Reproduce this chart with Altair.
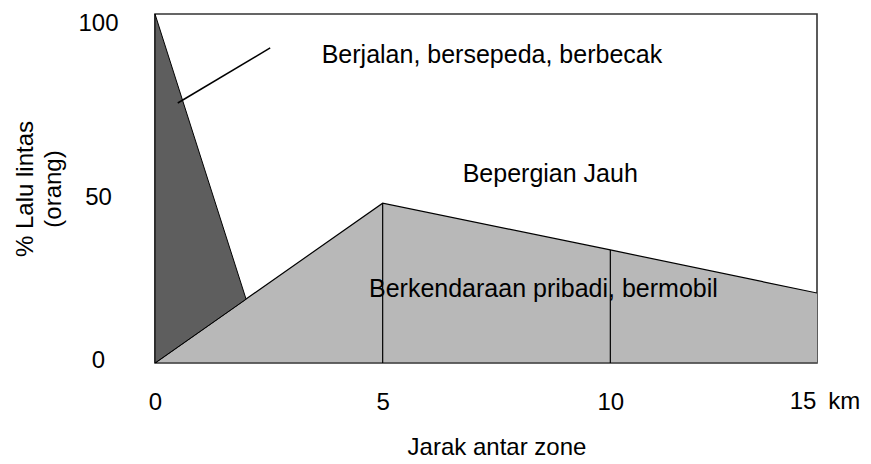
import altair as alt
import pandas as pd

# Car / private vehicle share (hatched area)
car_x = [0, 5, 10, 15]
car_y = [0, 45.8, 32.4, 18.8]

# Walking / cycling / becak share (dark triangle)
walk_x = [0, 2]
walk_top = [100, 18.3]
walk_bottom = [0, 18.3]

# vertical dividers
div_x = [5, 10]
div_top = [45.8, 32.4]

# pointer line for the walking label
ptr_x = [0.5, 2.53]
ptr_y = [74.5, 90.3]

# labels inside the plot
lab_text = ["Berjalan, bersepeda, berbecak", "Bepergian Jauh", "Berkendaraan pribadi, bermobil"]
lab_x = [7.40, 8.68, 8.53]
lab_y = [86, 51.9, 18.9]

FONT = "Liberation Sans"
W, H = 662, 349

xs = alt.Scale(domain=[0, 15], range=[0, 683])
ys = alt.Scale(domain=[0, 100])

car = pd.DataFrame({"x": car_x, "y": car_y})
walk = pd.DataFrame({"x": walk_x, "top": walk_top, "bottom": walk_bottom})
div = pd.DataFrame({"x": div_x, "top": div_top, "zero": [0, 0]})
ptr = pd.DataFrame({"x": ptr_x, "y": ptr_y})
labs = pd.DataFrame({"t": lab_text, "x": lab_x, "y": lab_y})
km = pd.DataFrame({"x": [15], "t": ["15\u2002km"]})

xaxis = alt.Axis(values=[0, 5, 10], grid=False, domain=False, ticks=False, tickSize=0,
                 labelFlush=False,
                 labelFontSize=24, labelFont=FONT, labelColor="black", labelPadding=27,
                 title="Jarak antar zone", titleFontSize=24, titleFont=FONT,
                 titleFontWeight="normal", titleColor="black", titlePadding=21)
yaxis = alt.Axis(values=[0, 50, 100], grid=False, domain=False, ticks=False, tickSize=0,
                 labelFontSize=24, labelFont=FONT, labelColor="black", labelPadding=57,
                 labelAlign="center",
                 labelOffset={"condition": {"test": "datum.value == 0", "value": -3},
                              "value": 9},
                 title=["% Lalu lintas", "(orang)"], titleFontSize=24, titleFont=FONT,
                 titleFontWeight="normal", titleColor="black", titlePadding=12,
                 titleLineHeight=28)

car_layer = alt.Chart(car).mark_area(fill="#b8b8b8", stroke="black", strokeWidth=1.2, clip=True).encode(
    x=alt.X("x:Q", scale=xs, axis=xaxis),
    y=alt.Y("y:Q", scale=ys, axis=yaxis),
)

walk_layer = alt.Chart(walk).mark_area(fill="#5e5e5e", stroke="black", strokeWidth=1).encode(
    x=alt.X("x:Q", scale=xs),
    y=alt.Y("top:Q", scale=ys),
    y2="bottom:Q",
)

div_layer = alt.Chart(div).mark_rule(color="black", strokeWidth=1.2).encode(
    x=alt.X("x:Q", scale=xs),
    y=alt.Y("zero:Q", scale=ys),
    y2="top:Q",
)

ptr_layer = alt.Chart(ptr).mark_line(color="black", strokeWidth=1.5).encode(
    x=alt.X("x:Q", scale=xs),
    y=alt.Y("y:Q", scale=ys),
)

lab_layer = alt.Chart(labs).mark_text(font=FONT, fontSize=25, color="black",
                                      baseline="alphabetic").encode(
    x=alt.X("x:Q", scale=xs),
    y=alt.Y("y:Q", scale=ys),
    text="t:N",
)

km_layer = alt.Chart(km).mark_text(font=FONT, fontSize=24, color="black",
                                   baseline="top", dx=-13).encode(
    x=alt.X("x:Q", scale=xs),
    y=alt.value(H + 27),
    text="t:N",
)

chart = alt.layer(car_layer, walk_layer, div_layer, ptr_layer, lab_layer, km_layer).properties(
    width=W, height=H,
    autosize=alt.AutoSizeParams(type="none"),
    padding={"left": 147, "top": 6, "right": 46, "bottom": 101},
).configure_view(stroke="#333333", strokeWidth=1.6)

chart.save("out.html", embed_options={"renderer": "svg", "actions": False})
